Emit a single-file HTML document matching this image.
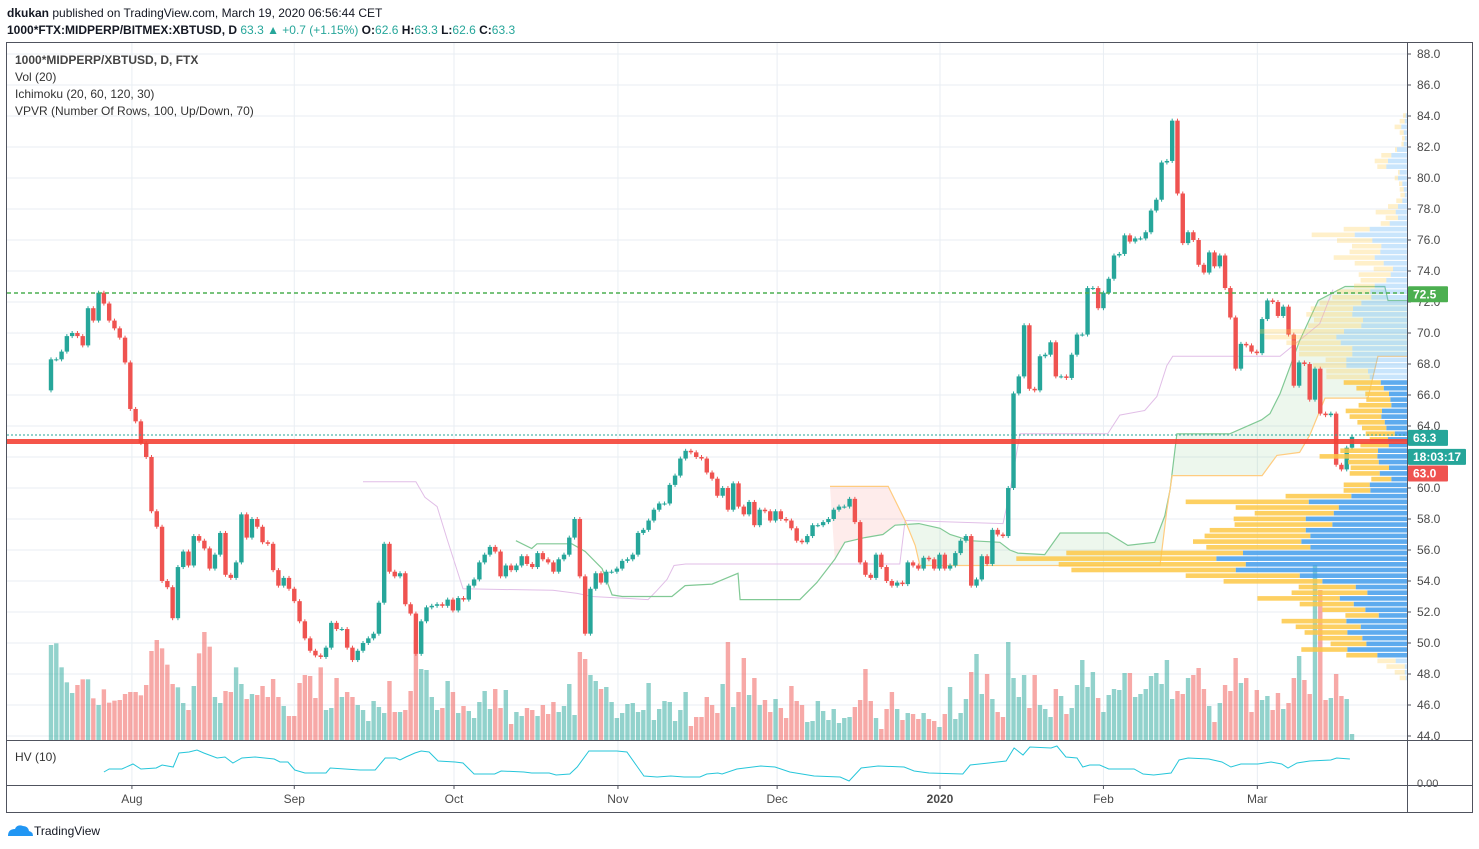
<!DOCTYPE html>
<html><head><meta charset="utf-8"><style>
body{margin:0;background:#fff;width:1479px;height:849px;overflow:hidden;font-family:"Liberation Sans",sans-serif;}
svg{display:block}
</style></head><body>
<svg id="chart" width="1479" height="849" viewBox="0 0 1479 849" xmlns="http://www.w3.org/2000/svg" font-family="Liberation Sans, sans-serif">
<rect x="0" y="0" width="1479" height="849" fill="#fff"/>
<text x="7" y="17" font-size="12" fill="#131722"><tspan font-weight="bold">dkukan</tspan> published on TradingView.com, March 19, 2020 06:56:44 CET</text>
<text x="7" y="34" font-size="12" fill="#131722"><tspan font-weight="bold">1000*FTX:MIDPERP/BITMEX:XBTUSD, D</tspan><tspan fill="#26a69a"> 63.3 ▲ +0.7 (+1.15%) </tspan><tspan font-weight="bold">O:</tspan><tspan fill="#26a69a">62.6 </tspan><tspan font-weight="bold">H:</tspan><tspan fill="#26a69a">63.3 </tspan><tspan font-weight="bold">L:</tspan><tspan fill="#26a69a">62.6 </tspan><tspan font-weight="bold">C:</tspan><tspan fill="#26a69a">63.3</tspan></text>
<g id="grid"></g>
<g id="cloud"></g>
<g id="vol"></g>
<g id="candles"></g>
<g id="vpvr"></g>
<line x1="7" x2="1407" y1="293" y2="293" stroke="#4caf50" stroke-width="1.5" stroke-dasharray="4,3"/>
<line x1="7" x2="1407" y1="435" y2="435" stroke="#26a69a" stroke-width="1" stroke-dasharray="2,2"/>
<rect x="7" y="439" width="1400" height="5" fill="#f44336" opacity="0.9"/>
<g id="axis"></g>
<g id="hv"></g>
<g id="taxis"></g>
<rect x="6.5" y="42.5" width="1466" height="770" fill="none" stroke="#50535e" stroke-width="1"/>
<line x1="1407.5" x2="1407.5" y1="42" y2="812" stroke="#50535e"/>
<line x1="6" x2="1472" y1="740.5" y2="740.5" stroke="#50535e"/>
<line x1="6" x2="1472" y1="785.5" y2="785.5" stroke="#50535e"/>
<g font-size="12" fill="#333">
<text x="15" y="64" font-weight="bold" fill="#444">1000*MIDPERP/XBTUSD, D, FTX</text>
<text x="15" y="81">Vol (20)</text>
<text x="15" y="98">Ichimoku (20, 60, 120, 30)</text>
<text x="15" y="115">VPVR (Number Of Rows, 100, Up/Down, 70)</text>
</g>
<text x="15" y="761" font-size="12" fill="#333">HV (10)</text>
<g>
<path d="M8 836 q0-7 7-7 q2-5 8-3 q5 0 6 5 q4 1 4 5 z" fill="#2196f3"/>
<text x="34" y="835" font-size="12" fill="#131722">TradingView</text>
</g>
</svg>
<script>
const closes=[68.3,68.3,68.8,69.8,70.0,69.8,69.2,71.6,70.8,72.6,71.9,70.8,70.3,69.7,68.1,65.1,64.3,62.9,62.0,58.5,57.5,54.0,53.6,51.6,54.9,55.9,55.0,56.9,56.6,56.1,54.8,55.7,57.1,54.4,54.2,55.2,58.3,56.8,58.0,57.5,56.5,56.4,54.7,53.7,54.2,53.5,52.7,51.4,50.3,49.5,49.2,49.1,49.7,51.3,50.9,50.9,49.7,48.9,49.5,50.0,50.3,50.6,52.6,56.4,54.6,54.3,54.5,52.5,51.9,49.3,51.4,52.3,52.4,52.5,52.4,52.8,52.1,
52.9,52.8,53.7,54.1,55.2,55.7,56.2,55.9,54.3,55.0,54.7,55.0,55.6,55.1,54.9,55.8,55.4,55.2,54.6,55.4,55.7,56.8,58.0,54.3,50.6,53.5,54.5,53.9,54.6,54.6,54.8,55.3,55.4,55.7,57.1,57.3,57.9,58.6,59.0,59.0,60.2,60.8,61.9,62.4,62.3,62.0,61.9,61.0,60.6,59.5,60.0,58.6,60.3,58.8,58.3,59.1,57.6,58.6,58.5,57.9,58.5,58.0,57.9,57.4,56.6,56.5,56.9,57.6,57.6,57.8,58.0,58.6,58.8,58.8,59.3,57.8,55.2,54.4,54.2,55.7,54.9,54.0,53.7,53.9,53.8,55.2,55.0,54.8,
55.5,55.4,54.8,55.7,54.8,55.0,55.8,56.6,56.9,53.7,54.1,55.6,55.1,57.3,57.0,56.9,60.0,66.1,67.2,70.5,66.4,66.3,68.5,68.6,69.4,67.2,67.2,67.1,68.6,69.9,69.9,72.9,72.9,71.6,72.6,73.5,75.0,75.1,76.3,75.9,76.1,76.1,76.5,77.9,78.6,81.0,81.1,83.7,79.0,75.8,76.5,76.0,74.4,73.9,75.2,74.3,75.0,72.9,71.0,67.7,69.3,69.2,68.8,68.7,70.9,72.1,72.0,71.1,71.7,69.9,66.6,68.1,68.0,65.7,67.7,64.8,64.7,64.8,61.5,61.2,62.6,63.3];
const firstOpen=66.3;
const volumes=[285,290,218,173,141,165,182,182,125,105,152,112,118,120,138,144,144,134,165,267,300,275,226,168,158,111,90,162,260,324,280,129,111,147,144,218,168,123,138,135,162,129,183,129,102,72,72,171,195,192,126,218,90,96,186,129,144,129,105,90,57,117,99,81,177,84,84,90,147,300,213,210,129,90,96,177,144,81,102,87,66,114,147,93,153,96,150,48,84,72,96,90,72,105,78,114,84,102,168,75,264,243,195,177,153,159,114,66,81,108,111,84,90,171,60,93,117,114,57,90,144,42,69,
69,129,105,81,168,294,99,144,246,135,186,105,120,84,123,96,66,162,117,105,54,57,117,87,60,93,51,66,69,99,120,213,117,66,33,93,144,93,60,81,78,63,81,63,57,39,78,159,63,81,123,204,258,138,198,123,84,69,294,186,129,195,96,195,105,93,69,153,132,78,96,165,240,159,204,126,84,135,153,150,201,201,129,138,153,192,201,168,240,123,147,138,186,195,216,153,102,54,111,165,147,246,171,186,84,150,120,132,90,141,93,111,186,252,180,138,525,450,120,126,198,132,123,18];
const monthLabels=["Aug","Sep","Oct","Nov","Dec","2020","Feb","Mar"];
const monthIdx=[15.3,46.0,76.2,107.2,137.3,168.1,199.0,228.1];
const priceTicks=[88,86,84,82,80,78,76,74,72,70,68,66,64,62,60,58,56,54,52,50,48,46,44];
const vpUp=[1.3,2.3,5.7,3.3,2.3,3.3,10,15.7,19,20.7,7.3,9,4.7,3.3,2.3,4.7,9,11.3,9,17.3,37.3,52.3,34.7,25.7,26.7,32.3,23.3,14,16.3,20.7,32.3,36.7,35.7,45.7,54,54.7,44,45.7,63,70.7,66.3,54.7,54.7,60.7,60.7,39,37.3,26.3,23.3,18,16.7,15.7,25,25.7,22.3,20.7,12.3,19,18.3,29,29.7,28.3,18,27.3,15.7,37.3,36.7,55.7,98.3,68.3,73.3,101.3,74.7,101.3,96.7,105.7,96.7,164,190.7,161.3,171.3,107.3,84.7,51.3,39.7,67.3,53.3,41.7,28.3,60.7,46.3,59.7,44.7,40.7,59.7,29.7,11.3,2.3,2.3,1.3];
const vpDown=[2.7,5,6.7,4,2.7,2.3,2,10,13.3,9,1.7,3.3,3.3,4,4.3,6,10,20,12.3,9,26,43,35.3,29.3,30.7,41,29,19.3,32,25.7,20.7,33.3,39,41.7,42.3,46,49,53.3,84.3,71.7,54.3,53.3,53.3,20.7,33.3,41.7,43.3,37,27.3,23.7,24,32.7,36.3,31.7,27.3,24.3,29,18.3,28.3,37.7,57.7,30.7,38.3,30,20,26,26.7,65.7,123,103,79,72,97.7,96,105.7,108.3,104,176.7,200,187,164.3,114,98.7,57,75.7,82.3,54,43,33.3,64.7,65,42.7,44.3,35.7,46,31,18.3,18.3,10,6];
const hvIdx=[10,11,13.4,15.5,17,19.9,21,23.1,24.2,26.1,27.6,28.9,31.4,32.9,34.4,36.1,38.6,42.2,43.3,44.8,46.1,48,52,52.8,58.4,61.3,63.2,65.2,66,67.1,68.8,70,71.5,73.2,76.4,77.9,80,83.9,85.1,89.4,90.9,94.2,95.5,98.1,99.5,101.7,107,108.9,112.1,114.6,117.2,119.7,122.7,124,126.1,126.9,129.7,134.2,136.9,139.7,144.3,149.2,150.9,153.2,156.4,161.3,163.2,166,172.4,173.8,177.3,180.6,182.1,183.8,185.1,189.1,190.2,191.9,194,195.1,196.4,198.3,200,204.8,206.5,208.5,211.8,213.3,215,218.9,221.4,223.1,225,228.2,230.7,232.7,233.9,235.6,238,242,243.1,245.6];
const hvVal=[11,14,14,19,14,15,18,16,30,31,33,30,25,26,20,25,26,24,21,21,13,10,10,15,13,13,25,25,23,26,30,32,31,22,21,20,9,9,12,11,10,10,8,9,16,32,32,31,7,6,7,6,6,9,10,9,14,17,16,11,7,6,2,15,17,16,12,10,9,18,20,22,35,28,36,35,37,26,25,16,18,18,14,14,9,8,10,23,25,24,21,16,19,19,21,19,15,20,22,23,25,24];
const lagIdx=[59,69,70.7,73,74.9,77.9,94.9,99.5,102.3,112.9,114.6,116.5,117.8,120,160.5,161.5,180,181.3,183.2,199.8,202.1,206.8,209.1,211,212.1,232.4,239.9,242.4];
const lagVal=[60.4,60.4,59.4,58.8,56.7,53.5,53.4,53.2,53.0,52.8,53.4,54.1,55.0,55.1,55.1,57.9,57.7,59.7,63.5,63.5,64.7,65.0,65.9,67.9,68.5,68.5,70.6,72.8];
const spanAIdx=[87.9,90.9,91.9,98.5,101,104.2,106.1,108,117.4,119.9,125,127.1,129.9,130.3,141.6,144.8,148.2,150.1,153.9,157.3,159.6,164.1,168.1,170,173.8,179.4,181.3,182.8,187.9,190.8,199.8,203.6,208.7,210.6,211.6,212.9,222.9,228.9,230.5,232.4,236.1,239.6,244.7,252.2,252.8,256.4];
const spanAVal=[56.6,56.1,56.4,56.4,55.9,54.8,53.1,53.0,53.0,53.7,53.8,54.1,54.5,52.8,52.8,53.9,55.4,56.5,56.8,57.0,57.6,57.7,57.4,57.0,56.6,56.5,56.0,55.8,55.7,57.1,57.1,56.3,56.5,58.2,59.9,63.5,63.5,64.4,64.8,66.1,69.5,72.1,73.0,73.0,72.1,72.1];
const spanBIdx=[147.3,158.3,161.5,163.4,164.3,209.7,211,212,229,231.8,236.1,238,240.9,249,250.9,256.4];
const spanBVal=[60.1,60.1,57.9,56.3,55.0,55.0,58.6,60.8,60.8,62.1,62.3,63.4,65.8,65.8,68.5,68.5];

const NS='http://www.w3.org/2000/svg';
const N=closes.length;
const X0=51, XSTEP=1301/(N-1);
const xAt=i=>X0+i*XSTEP;
const yP=p=>54+(88-p)*15.5;
function mk(tag,attrs,parent){const e=document.createElementNS(NS,tag);for(const k in attrs)e.setAttribute(k,attrs[k]);parent.appendChild(e);return e;}
const G=id=>document.getElementById(id);

// grid
const grid=G('grid');
priceTicks.forEach(p=>{const l=mk('line',{x1:7,x2:1407,y1:yP(p),y2:yP(p),stroke:'#e9eef3','stroke-width':1},grid);

});
monthIdx.forEach(m=>{[[42,740],[741,785]].forEach(r=>{const l=mk('line',{x1:xAt(m),x2:xAt(m),y1:r[0],y2:r[1],stroke:'#e9eef3','stroke-width':1},grid);

});});

// cloud & ichimoku lines
const cloud=G('cloud');
const pts=(I,V)=>I.map((d,k)=>xAt(d).toFixed(1)+','+yP(V[k]).toFixed(1));
// green cloud polygon
let aG=[],bG=[];spanAIdx.forEach((d,k)=>{if(d>=159.6)aG.push(xAt(d)+','+yP(spanAVal[k]));});
spanBIdx.forEach((d,k)=>{if(d>=161.5)bG.push(xAt(d)+','+yP(spanBVal[k]));});
const cg=mk('polygon',{points:aG.concat(bG.reverse()).join(' '),fill:'rgba(76,175,80,0.10)'},cloud);


let aR=[],bR=[];spanBIdx.forEach((d,k)=>{if(d<=161.5)bR.push(xAt(d)+','+yP(spanBVal[k]));});
spanAIdx.forEach((d,k)=>{if(d>=148.2&&d<=159.6)aR.push(xAt(d)+','+yP(spanAVal[k]));});
const cr=mk('polygon',{points:bR.concat(aR.reverse()).join(' '),fill:'rgba(244,67,54,0.10)'},cloud);


const l1=mk('polyline',{points:pts(lagIdx,lagVal).join(' '),fill:'none',stroke:'#e1bee7','stroke-width':1},cloud);


const l2=mk('polyline',{points:pts(spanAIdx,spanAVal).join(' '),fill:'none',stroke:'#81c995','stroke-width':1.2},cloud);


const l3=mk('polyline',{points:pts(spanBIdx,spanBVal).join(' '),fill:'none',stroke:'#ffcc80','stroke-width':1.2},cloud);



// candles
const cgp=G('candles');
const opens=closes.map((c,i)=>i===0?firstOpen:closes[i-1]);
const upAt=i=>closes[Math.min(i,N-1)]>=opens[Math.min(i,N-1)];
for(let i=0;i<N;i++){
  const o=opens[i],c=closes[i],up=c>=o,col=up?'#26a69a':'#ef5350';
  const x=xAt(i),yt=yP(Math.max(o,c)),yb=yP(Math.min(o,c));
  const w=mk('line',{x1:x,x2:x,y1:yt-2,y2:yb+2,stroke:col,'stroke-width':1},cgp);
  
  
  const r=mk('rect',{x:x-2.2,y:yt,width:4.4,height:Math.max(1,yb-yt),fill:col},cgp);
  
  
}
// volume
const vg=G('vol');const NV=volumes.length,VSTEP=1301/(NV-1);
for(let i=0;i<NV;i++){
  const h=volumes[i]/3,x=X0+i*VSTEP,ci=Math.round(i*(N-1)/(NV-1));
  const r=mk('rect',{x:x-2.2,y:740-h,width:4.4,height:h,fill:upAt(ci)?'rgba(38,166,154,0.5)':'rgba(239,83,80,0.5)'},vg);
  
  
}
// vpvr
const vp=G('vpvr');const RT=84.03,RSTEP=0.3665;
for(let k=0;k<vpUp.length;k++){
  const yc=yP(RT-k*RSTEP),pale=(k<47||k>95);
  const u=vpUp[k],d=vpDown[k];
  const b=mk('rect',{x:1407-u,y:yc-2.3,width:u,height:4.6,fill:pale?'rgba(100,181,246,0.35)':'rgba(66,156,235,0.85)'},vp);
  
  
  const yl=mk('rect',{x:1407-u-d,y:yc-2.3,width:d,height:4.6,fill:pale?'rgba(255,204,80,0.3)':'rgba(253,200,70,0.85)'},vp);
  
  
}
// price axis
const ax=G('axis');
priceTicks.forEach(p=>{const t=mk('text',{x:1417,y:yP(p)+4,'font-size':12,fill:'#4a4a4a'},ax);t.textContent=p.toFixed(1);


mk('line',{x1:1407,x2:1411,y1:yP(p),y2:yP(p),stroke:'#50535e'},ax);});
const boxes=[['72.5',yP(72.5),'#4caf50','label-72-5'],['63.3',yP(63.3)+1,'#26a69a','last-price-label'],['18:03:17',yP(63.3)+20,'#26a69a','countdown-label'],['63.0',yP(63.0)+32,'#ef5350','red-line-price-label']];
boxes.forEach(b=>{const g=mk('g',{},ax);


mk('rect',{x:1408,y:b[1]-8,width:b[0].length>4?58:40,height:16,fill:b[2],rx:1},g);
const t=mk('text',{x:1413,y:b[1]+4,'font-size':12,fill:'#fff','font-weight':'bold'},g);t.textContent=b[0];});
// HV pane
const hv=G('hv');
const hl=mk('polyline',{points:hvIdx.map((d,k)=>xAt(d).toFixed(1)+','+(783-hvVal[k])).join(' '),fill:'none',stroke:'#26c6da','stroke-width':1},hv);


const z=mk('text',{x:1417,y:787,'font-size':11,fill:'#4a4a4a'},hv);z.textContent='0.00';


// time axis
const ta=G('taxis');
monthLabels.forEach((m,k)=>{const t=mk('text',{x:xAt(monthIdx[k]),y:803,'font-size':12,fill:'#4a4a4a','text-anchor':'middle','font-weight':m==='2020'?'bold':'normal'},ta);t.textContent=m;


mk('line',{x1:xAt(monthIdx[k]),x2:xAt(monthIdx[k]),y1:785,y2:789,stroke:'#50535e'},ta);});
</script>
</body></html>
